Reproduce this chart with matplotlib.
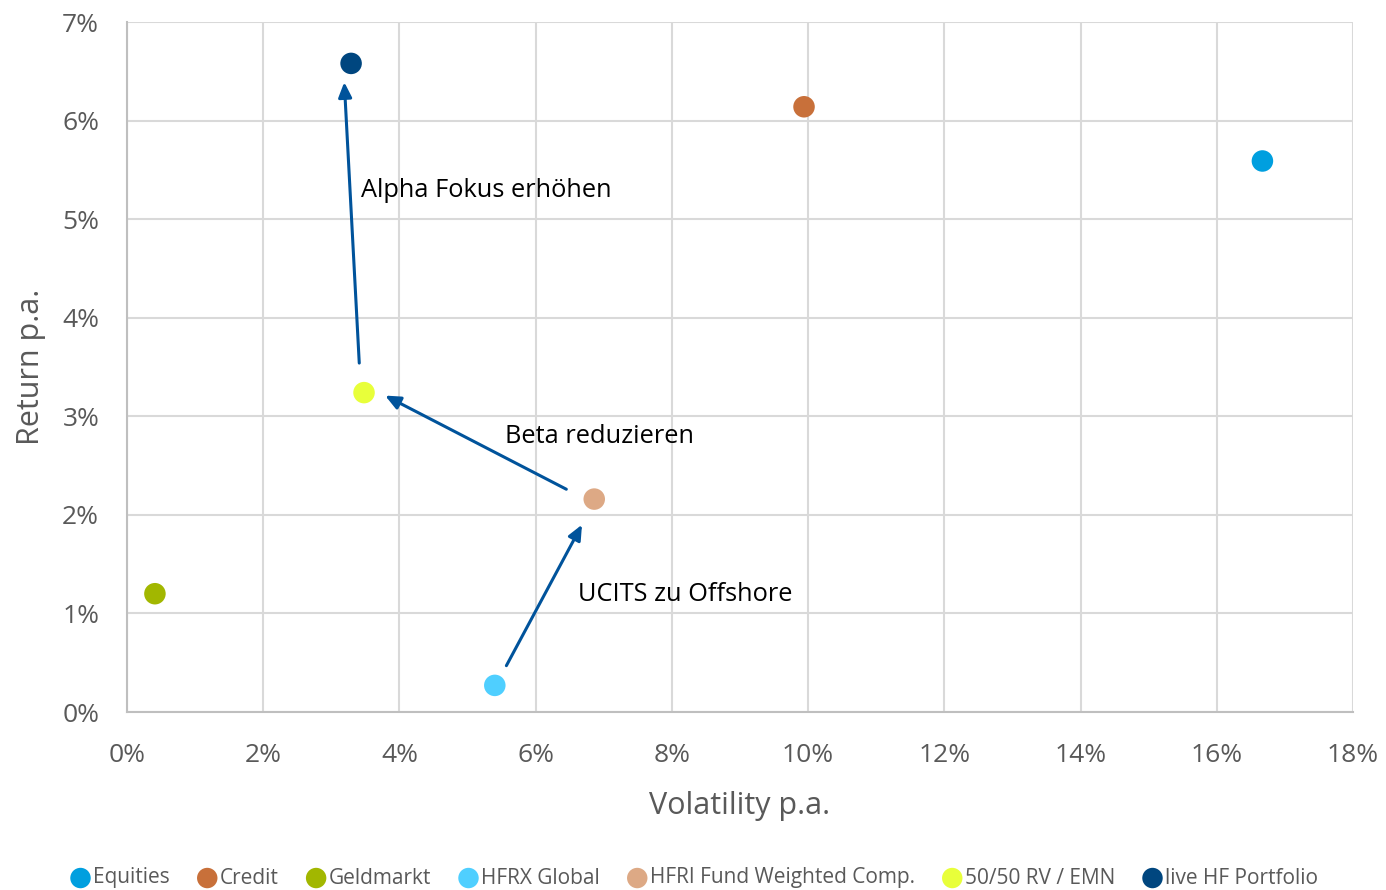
import matplotlib
matplotlib.use("Agg")
import matplotlib.pyplot as plt
from matplotlib.ticker import FuncFormatter, MultipleLocator

names = ["Equities", "Credit", "Geldmarkt", "HFRX Global", "HFRI Fund Weighted Comp.",
         "50/50 RV / EMN", "live HF Portfolio"]
vol = [16.67, 9.94, 0.41, 5.40, 6.86, 3.48, 3.29]
ret = [5.59, 6.14, 1.20, 0.27, 2.16, 3.24, 6.58]
colors = ["#009FDF", "#C8703A", "#A2B700", "#4FCFFF", "#DDA985", "#E8FF3A", "#00467F"]

arrow_labels = ["UCITS zu Offshore", "Beta reduzieren", "Alpha Fokus erhöhen"]
arrow_start = [(5.57, 0.47), (6.45, 2.26), (3.41, 3.54)]
arrow_end = [(6.68, 1.90), (3.79, 3.21), (3.19, 6.39)]
label_pos = [(6.62, 1.19), (5.55, 2.79), (3.44, 5.29)]

plt.rcParams['font.family'] = ['Open Sans', 'DejaVu Sans']
fig = plt.figure(figsize=(13.86, 8.9), dpi=100)
ax = fig.add_axes([127/1386, 1-712/890, (1353-127)/1386, (712-22)/890])

ax.set_xlim(0, 18)
ax.set_ylim(0, 7)
ax.xaxis.set_major_locator(MultipleLocator(2))
ax.yaxis.set_major_locator(MultipleLocator(1))
ax.xaxis.set_major_formatter(FuncFormatter(lambda v, p: f"{v:.0f}%"))
ax.yaxis.set_major_formatter(FuncFormatter(lambda v, p: f"{v:.0f}%"))
ax.grid(True, color="#D9D9D9", linewidth=1.5)
ax.set_axisbelow(True)
for s in ["top", "right"]:
    ax.spines[s].set_visible(False)
for s in ["left", "bottom"]:
    ax.spines[s].set_color("#BFBFBF")
    ax.spines[s].set_linewidth(1.5)
ax.tick_params(length=0, labelsize=19, colors="#595959")
ax.tick_params(axis="x", pad=22)
ax.tick_params(axis="y", pad=20)

for n, x, y, c in zip(names, vol, ret, colors):
    ax.scatter([x], [y], s=240, color=c, label=n, zorder=3, edgecolors="none")

for (x0, y0), (x1, y1), lab, (lx, ly) in zip(arrow_start, arrow_end, arrow_labels, label_pos):
    ax.annotate("", xy=(x1, y1), xytext=(x0, y0),
                arrowprops=dict(arrowstyle="-|>,head_length=0.9,head_width=0.4",
                                color="#00539B", lw=2.2, shrinkA=0, shrinkB=0), zorder=4)
    ax.text(lx, ly, lab, fontsize=18.3, color="black", va="center", ha="left")

ax.set_xlabel("Volatility p.a.", fontsize=22, color="#595959", labelpad=17)
ax.set_ylabel("Return p.a.", fontsize=22, color="#595959", labelpad=12)

leg = fig.legend(loc="center", bbox_to_anchor=(0.5, 1-878/890), ncol=7, frameon=False,
                 fontsize=15, handletextpad=0.0, columnspacing=1.2, markerscale=0.95,
                 handlelength=1.2)
for t in leg.get_texts():
    t.set_color("#595959")

fig.savefig("out.png", dpi=100)
